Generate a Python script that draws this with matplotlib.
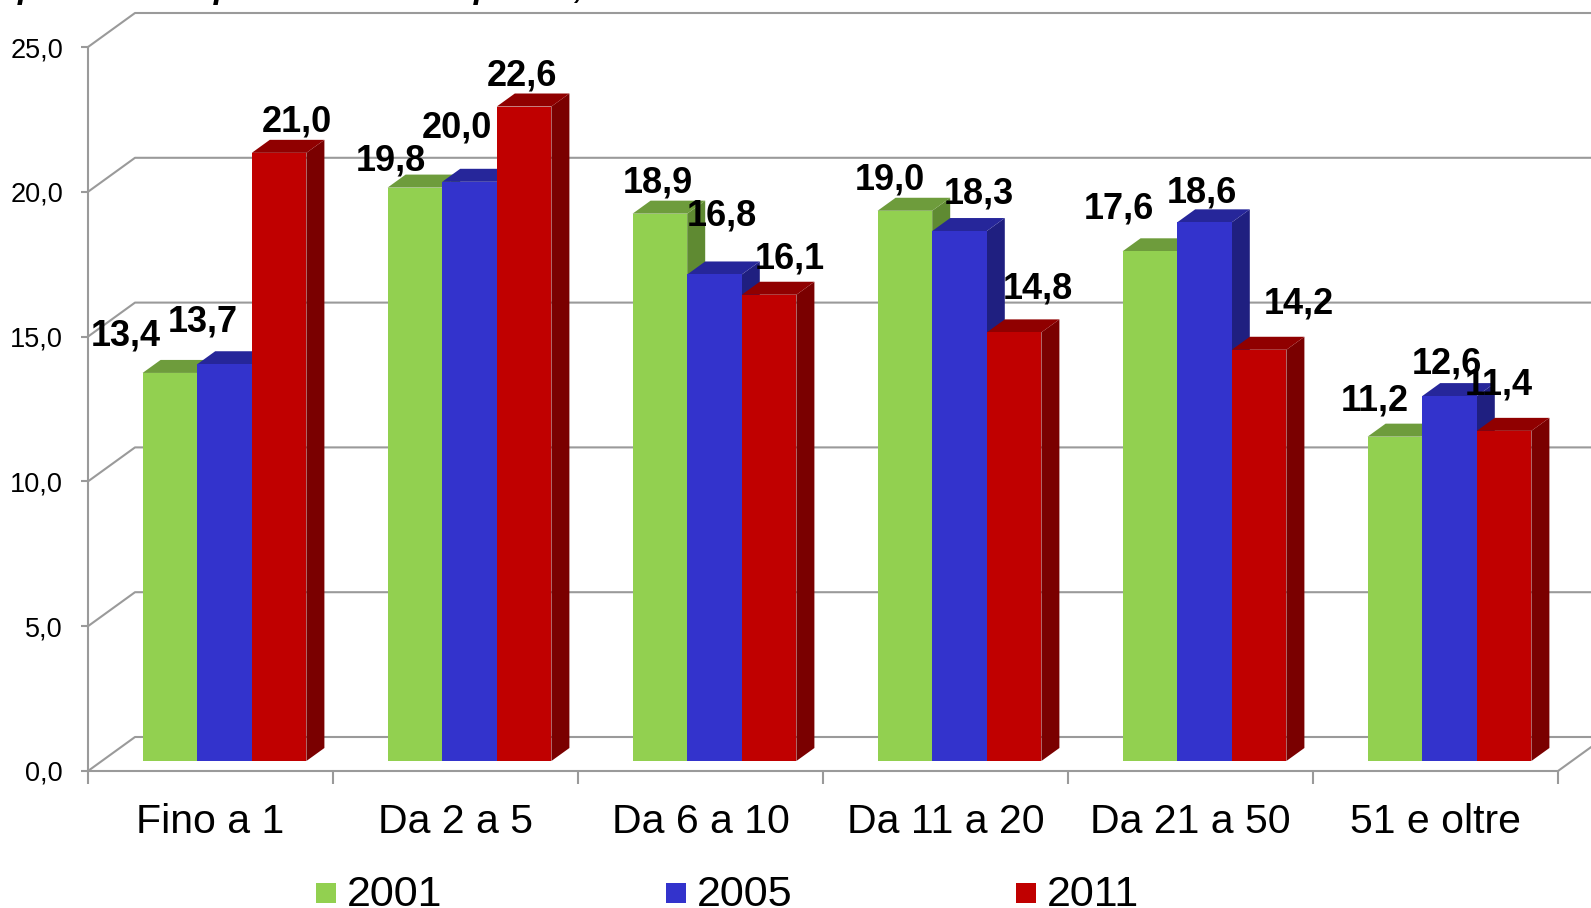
import matplotlib
matplotlib.use("Agg")
import matplotlib.pyplot as plt
from matplotlib.patches import Polygon, Rectangle

# data
categories = ['Fino a 1', 'Da 2 a 5', 'Da 6 a 10', 'Da 11 a 20', 'Da 21 a 50', '51 e oltre']
years = ['2001', '2005', '2011']
v2001 = [13.4, 19.8, 18.9, 19.0, 17.6, 11.2]
v2005 = [13.7, 20.0, 16.8, 18.3, 18.6, 12.6]
v2011 = [21.0, 22.6, 16.1, 14.8, 14.2, 11.4]
y_ticks = [0, 5, 10, 15, 20, 25]

series = [v2001, v2005, v2011]
front_col = ['#92D050', '#3333CC', '#C00000']
top_col = ['#6E9C3C', '#26269A', '#900000']
side_col = ['#5F8A32', '#1F1F80', '#7A0000']

# label nudges (pixels) relative to the top centre of each bar front
nudge_x = [[-44, -22, 18], [-24, -13, -2], [-2, 7, 21],
           [-15, 19, 24], [-31, -3, 40], [-20, -3, -5]]
nudge_y = [[37, 42, 31], [27, 54, 31], [31, 58, 36],
           [31, 37, 43], [42, 29, 46], [36, 32, 46]]

plt.rcParams['font.family'] = ['Liberation Sans', 'DejaVu Sans']

W, H = 1591, 908
fig = plt.figure(figsize=(W / 100, H / 100), dpi=100)
ax = fig.add_axes([0, 0, 1, 1])

# pixel scale of the front plane
px_cat = 245.0    # pixels per category
px_val = 28.96    # pixels per unit
x0_px, y0_px = 88, 771
ax.set_xlim(-x0_px / px_cat, (W - x0_px) / px_cat)
ax.set_ylim(-(H - y0_px) / px_val, y0_px / px_val)
xmax = ax.get_xlim()[1]

# 3d depth offsets
wall_dx, wall_dy = 47 / px_cat, 34 / px_val
bar_dx, bar_dy = 14 / px_cat, 10 / px_val
deep_dx, deep_dy = 18 / px_cat, 13 / px_val
bar_w = 54.6 / px_cat

grid_col = '#9a9a9a'
for v in y_ticks:
    ax.plot([0, wall_dx, xmax], [v, v + wall_dy, v + wall_dy],
            color=grid_col, lw=1.5, zorder=1, solid_capstyle='butt')
n = len(categories)
ax.plot([n, n + wall_dx], [0, wall_dy], color=grid_col, lw=1.5, zorder=1)

# bars
for i in range(n):
    left0 = i + 0.5 + bar_dx - 1.5 * bar_w
    for j, vals in enumerate(series):
        v = vals[i]
        x1 = left0 + j * bar_w
        x2 = x1 + bar_w
        b = bar_dy
        t = bar_dy + v
        z = 3 + j
        ax.add_patch(Polygon([(x2, b), (x2 + deep_dx, b + deep_dy),
                              (x2 + deep_dx, t + deep_dy), (x2, t)],
                             closed=True, fc=side_col[j], ec='none', zorder=z))
        ax.add_patch(Polygon([(x1, t), (x2, t), (x2 + deep_dx, t + deep_dy),
                              (x1 + deep_dx, t + deep_dy)],
                             closed=True, fc=top_col[j], ec='none', zorder=z))
        ax.add_patch(Rectangle((x1, b), bar_w, v, fc=front_col[j], ec='none', zorder=z))
        ax.annotate(f'{v:.1f}'.replace('.', ','), xy=((x1 + x2) / 2, t),
                    xytext=(nudge_x[i][j], nudge_y[i][j]), textcoords='offset pixels',
                    ha='center', va='center', fontsize=26, fontweight='bold',
                    color='black', zorder=10)

# axes
for s in ['top', 'right']:
    ax.spines[s].set_visible(False)
ax.spines['left'].set_position(('data', 0))
ax.spines['bottom'].set_position(('data', 0))
ax.spines['left'].set_bounds(0, 25)
ax.spines['bottom'].set_bounds(0, n)
for s in ['left', 'bottom']:
    ax.spines[s].set_color(grid_col)
    ax.spines[s].set_linewidth(1.5)
    ax.spines[s].set_zorder(2)

ax.set_yticks(y_ticks)
ax.set_yticklabels([f'{v:.1f}'.replace('.', ',') for v in y_ticks])
ax.tick_params(axis='y', direction='out', length=5, width=1.5, color=grid_col,
               labelsize=19.5, pad=13)
ax.set_xticks(range(n + 1))
ax.set_xticklabels([])
ax.set_xticks([i + 0.5 for i in range(n)], minor=True)
ax.set_xticklabels(categories, minor=True)
ax.tick_params(axis='x', which='major', direction='out', length=9, width=1.5, color=grid_col)
ax.tick_params(axis='x', which='minor', length=0, labelsize=29.5, pad=23)

# legend
for j, yr in enumerate(years):
    lx = 316 + j * 350
    fig.add_artist(Rectangle((lx / W, (H - 903) / H), 20 / W, 20 / H,
                             transform=fig.transFigure, fc=front_col[j], ec='none'))
    fig.text((lx + 31) / W, (H - 906) / H, yr, fontsize=31, va='baseline', ha='left')

# title, mostly above the visible area
fig.text(18 / W, 1 + 2 / H, 'percentuale per classe di ampiezza, valori %',
         fontsize=24, fontweight='bold', fontstyle='italic', va='baseline', ha='left')

fig.savefig('out.png', dpi=100)
